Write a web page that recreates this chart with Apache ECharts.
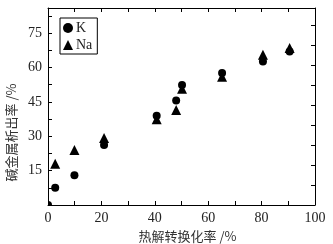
<!DOCTYPE html>
<html><head><meta charset="utf-8">
<script src="https://cdn.jsdelivr.net/npm/echarts@6/dist/echarts.min.js"></script>
<style>html,body{margin:0;padding:0;background:#fff}#c{width:333px;height:244px}</style>
</head><body><div id="c"></div>
<script>
const kX = [0, 2.7, 9.9, 21, 40.7, 48, 50.2, 65.2, 80.5, 90.5];
const kY = [0, 7.5, 13.0, 26.2, 39.0, 45.6, 52.4, 57.6, 62.6, 67.0];
const naX = [2.7, 9.9, 21, 40.7, 48, 50.2, 65.2, 80.5, 90.5];
const naY = [18.0, 24.0, 29.2, 37.4, 41.5, 50.8, 56.0, 65.6, 68.5];
const xTicks = [0, 20, 40, 60, 80, 100];
const yTicks = [15, 30, 45, 60, 75];

const serif = 'Liberation Serif';
const txt = '#222';
const chart = echarts.init(document.getElementById('c'));
chart.setOption({
  animation: false,
  grid: {left: 48, right: 18, top: 8, bottom: 39, outerBoundsMode: 'none', containLabel: false},
  legend: {
    orient: 'vertical', left: 60, top: 18, padding: [3, 5, 2, 3],
    itemWidth: 10, itemHeight: 10, itemGap: 3,
    borderColor: '#000', borderWidth: 1,
    textStyle: {fontFamily: serif, fontSize: 14, color: txt, padding: [0, 0, 0, -2]},
    data: [{name: 'K', icon: 'circle'}, {name: 'Na', icon: 'triangle'}]
  },
  xAxis: [{
    type: 'value', min: 0, max: 100, interval: 10,
    name: '热解转换化率 /%', nameLocation: 'middle', nameGap: 25,
    nameTextStyle: {fontFamily: 'Noto Sans CJK SC', fontSize: 13, color: '#333', padding: [0, 0, 0, 12]},
    axisLine: {onZero: false, lineStyle: {color: '#000', width: 1}},
    axisTick: {inside: true, length: 4, lineStyle: {color: '#000'}},
    axisLabel: {fontFamily: serif, fontSize: 14, color: txt, margin: 6,
      formatter: v => xTicks.includes(v) ? String(v) : ''},
    splitLine: {show: false}
  }, {
    type: 'value', position: 'top', min: 0, max: 100, interval: 10,
    axisLine: {show: true, onZero: false, lineStyle: {color: '#000', width: 1}},
    axisTick: {inside: true, length: 4, lineStyle: {color: '#000'}},
    axisLabel: {show: false}, splitLine: {show: false}
  }],
  yAxis: [{
    type: 'value', min: 0, max: 86, interval: 7.5,
    name: '碱金属析出率 /%', nameLocation: 'middle', nameGap: 30, nameRotate: 90,
    nameTextStyle: {fontFamily: 'Noto Sans CJK SC', fontSize: 13, color: '#333', padding: [0, 52, 0, 0]},
    axisLine: {show: true, onZero: false, lineStyle: {color: '#000', width: 1}},
    axisTick: {inside: true, length: 4, lineStyle: {color: '#000'}},
    axisLabel: {fontFamily: serif, fontSize: 14, color: txt, margin: 6,
      formatter: v => yTicks.includes(v) ? String(v) : ''},
    splitLine: {show: false}
  }, {
    type: 'value', position: 'right', min: 0, max: 9.85, interval: 1,
    axisLine: {show: true, onZero: false, lineStyle: {color: '#000', width: 1}},
    axisTick: {inside: true, length: 4, lineStyle: {color: '#000'}},
    axisLabel: {show: false}, splitLine: {show: false}
  }],
  series: [{
    name: 'K', type: 'custom', clip: true, xAxisIndex: 0, yAxisIndex: 0,
    itemStyle: {color: '#000'},
    data: kX.map((x, i) => [x, kY[i]]),
    renderItem: (params, api) => {
      const p = api.coord([api.value(0), api.value(1)]);
      return {type: 'circle', shape: {cx: p[0], cy: p[1], r: 4}, style: {fill: '#000'}};
    }
  }, {
    name: 'Na', type: 'scatter', symbol: 'triangle', symbolSize: 10,
    itemStyle: {color: '#000', opacity: 1},
    data: naX.map((x, i) => [x, naY[i]])
  }]
});
</script></body></html>
